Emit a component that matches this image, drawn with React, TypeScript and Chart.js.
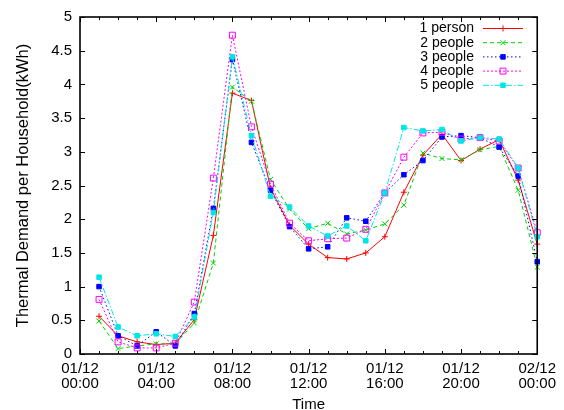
import React, { useEffect, useRef } from 'react';
import { Chart, registerables } from 'chart.js';
import { drawPoint } from 'chart.js/helpers';

Chart.register(...registerables);

const FONT = "'Liberation Sans', Arial, Helvetica, sans-serif";

const hours = [1, 2, 3, 4, 5, 6, 7, 8, 9, 10, 11, 12, 13, 14, 15, 16, 17, 18, 19, 20, 21, 22, 23, 24];
const xTickHours = [0, 4, 8, 12, 16, 20, 24];
const xTickDates = ['01/12', '01/12', '01/12', '01/12', '01/12', '01/12', '02/12'];
const xTickTimes = ['00:00', '04:00', '08:00', '12:00', '16:00', '20:00', '00:00'];
const yTicks = [0, 0.5, 1, 1.5, 2, 2.5, 3, 3.5, 4, 4.5, 5];

const seriesNames = ['1 person', '2 people', '3 people', '4 people', '5 people'];

const person1 = [0.56, 0.27, 0.18, 0.14, 0.16, 0.51, 1.76, 3.87, 3.76, 2.46, 1.91, 1.63, 1.43, 1.41, 1.50, 1.74, 2.40, 2.95, 3.26, 2.87, 3.04, 3.18, 2.58, 1.63];
const people2 = [0.49, 0.08, 0.12, 0.15, 0.15, 0.46, 1.35, 3.96, 3.75, 2.59, 2.15, 1.86, 1.94, 1.78, 1.84, 1.93, 2.21, 2.98, 2.90, 2.88, 3.03, 3.08, 2.43, 1.29];
const people3 = [1.00, 0.27, 0.12, 0.33, 0.12, 0.60, 2.16, 4.37, 3.14, 2.43, 1.89, 1.56, 1.59, 2.02, 1.97, 2.39, 2.66, 2.87, 3.22, 3.24, 3.21, 3.07, 2.64, 1.37];
const people4 = [0.81, 0.18, 0.09, 0.09, 0.16, 0.77, 2.61, 4.73, 3.37, 2.52, 1.94, 1.68, 1.71, 1.72, 1.85, 2.39, 2.92, 3.28, 3.29, 3.19, 3.21, 3.16, 2.76, 1.80];
const people5 = [1.14, 0.40, 0.27, 0.30, 0.26, 0.55, 2.10, 4.41, 3.24, 2.34, 2.18, 1.90, 1.75, 1.90, 1.68, 2.39, 3.36, 3.31, 3.33, 3.16, 3.21, 3.19, 2.76, 1.74];

const seriesValues = [person1, people2, people3, people4, people5];
const seriesColors = ['#ff0000', '#00d000', '#0000ff', '#ff00ff', '#00e5e5'];
const seriesDashes = [[], [4, 3], [1.5, 2.5], [2, 2], [6, 2, 1.5, 2]];
const seriesPointStyles = ['cross', 'crossRot', 'rect', 'rect', 'rect'];
const seriesPointRadius = [3, 3.5, 3.2, 4.2, 3.2];
const seriesPointFill = ['#ff0000', '#00d000', '#0000ff', 'rgba(0,0,0,0)', '#00e5e5'];

const framePlugin = {
  id: 'gnuFrame',
  afterDatasetsDraw(chart: any) {
    const { ctx, chartArea } = chart;
    const { left, right, top, bottom } = chartArea;
    const xs = chart.scales.x;
    const ys = chart.scales.y;
    ctx.save();
    ctx.strokeStyle = '#000';
    ctx.lineWidth = 1;
    ctx.beginPath();
    for (let h = 0; h <= 24; h++) {
      const px = Math.round(xs.getPixelForValue(h)) + 0.5;
      const len = h % 4 === 0 ? 5 : 3;
      ctx.moveTo(px, bottom);
      ctx.lineTo(px, bottom - len);
      ctx.moveTo(px, top);
      ctx.lineTo(px, top + len);
    }
    yTicks.forEach((v) => {
      const py = Math.round(ys.getPixelForValue(v)) + 0.5;
      ctx.moveTo(left, py);
      ctx.lineTo(left + 5, py);
      ctx.moveTo(right, py);
      ctx.lineTo(right - 5, py);
    });
    ctx.stroke();
    ctx.lineWidth = 1.6;
    ctx.strokeRect(left, top, right - left, bottom - top);
    ctx.restore();
  },
};

const legendPlugin = {
  id: 'gnuLegend',
  afterDraw(chart: any) {
    const { ctx } = chart;
    ctx.save();
    ctx.font = `14px ${FONT}`;
    ctx.textAlign = 'right';
    ctx.textBaseline = 'middle';
    chart.data.datasets.forEach((ds: any, i: number) => {
      const y = 28 + i * 14.2;
      ctx.fillStyle = '#000';
      ctx.fillText(ds.label, 474, y + 0.5);
      ctx.strokeStyle = ds.borderColor;
      ctx.lineWidth = ds.borderWidth;
      ctx.setLineDash(ds.borderDash || []);
      ctx.beginPath();
      ctx.moveTo(483, y + 0.5);
      ctx.lineTo(523, y + 0.5);
      ctx.stroke();
      ctx.setLineDash([]);
      ctx.fillStyle = ds.pointBackgroundColor;
      ctx.strokeStyle = ds.pointBorderColor;
      ctx.lineWidth = ds.pointBorderWidth;
      drawPoint(ctx, { pointStyle: ds.pointStyle, radius: ds.pointRadius, rotation: 0, borderWidth: ds.pointBorderWidth }, 503, y + 0.5);
    });
    ctx.restore();
  },
};

export default function App() {
  const canvasRef = useRef<HTMLCanvasElement | null>(null);

  useEffect(() => {
    const canvas = canvasRef.current;
    if (!canvas) return;
    const datasets = seriesNames.map((name, i) => ({
      label: name,
      data: hours.map((h, j) => ({ x: h, y: seriesValues[i][j] })),
      borderColor: seriesColors[i],
      borderWidth: 1,
      borderDash: seriesDashes[i],
      pointStyle: seriesPointStyles[i],
      pointRadius: seriesPointRadius[i],
      pointBackgroundColor: seriesPointFill[i],
      pointBorderColor: seriesColors[i],
      pointBorderWidth: 1,
      tension: 0,
      fill: false,
      clip: 8,
      order: 5 - i,
    }));
    const chart = new Chart(canvas, {
      type: 'line',
      data: { datasets },
      options: {
        animation: false,
        responsive: true,
        maintainAspectRatio: false,
        layout: { padding: { top: 17, right: 24, left: 0, bottom: 0 } },
        plugins: { legend: { display: false }, tooltip: { enabled: false } },
        scales: {
          x: {
            type: 'linear',
            min: 0,
            max: 24,
            grid: { display: false, drawTicks: false },
            border: { display: false },
            afterBuildTicks: (scale: any) => {
              scale.ticks = xTickHours.map((v) => ({ value: v }));
            },
            afterFit: (scale: any) => {
              scale.height = 56;
            },
            ticks: {
              autoSkip: false,
              maxRotation: 0,
              padding: 8,
              color: '#000',
              font: { family: FONT, size: 15, lineHeight: 0.97 },
              callback: (v: any) => {
                const idx = xTickHours.indexOf(Number(v));
                return idx >= 0 ? [xTickDates[idx], xTickTimes[idx]] : '';
              },
            },
            title: {
              display: true,
              text: 'Time',
              color: '#000',
              padding: { top: 0, bottom: -4 },
              font: { family: FONT, size: 15 },
            },
          },
          y: {
            type: 'linear',
            min: 0,
            max: 5,
            grid: { display: false, drawTicks: false },
            border: { display: false },
            afterBuildTicks: (scale: any) => {
              scale.ticks = yTicks.map((v) => ({ value: v }));
            },
            afterFit: (scale: any) => {
              scale.width = 80;
            },
            ticks: {
              padding: 8,
              color: '#000',
              font: { family: FONT, size: 15 },
              callback: (v: any) => String(v),
            },
            title: {
              display: true,
              text: 'Thermal Demand per Household(kWh)',
              color: '#000',
              padding: { top: 14, bottom: 0 },
              font: { family: FONT, size: 16.5 },
            },
          },
        },
      },
      plugins: [framePlugin, legendPlugin],
    } as any);
    return () => chart.destroy();
  }, []);

  return (
    <div style={{ position: 'absolute', left: 0, top: 0, width: 564, height: 410, background: '#fff' }}>
      <canvas ref={canvasRef} />
    </div>
  );
}
